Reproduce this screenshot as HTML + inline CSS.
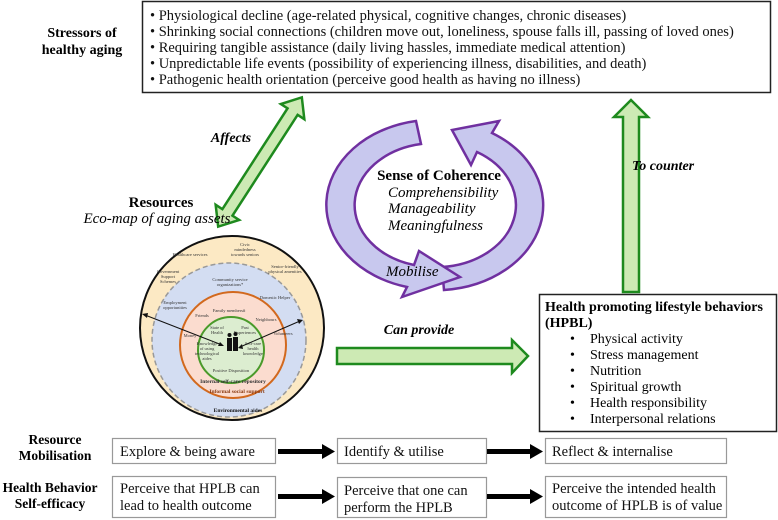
<!DOCTYPE html>
<html><head><meta charset="utf-8"><style>
html,body{margin:0;padding:0;background:#fff;}
svg{display:block;font-family:"Liberation Serif",serif;}
</style></head><body>
<svg width="778" height="520" viewBox="0 0 778 520" xmlns="http://www.w3.org/2000/svg">
<!-- top box -->
<rect x="142.5" y="1.5" width="628" height="91" fill="#fff" stroke="#222" stroke-width="1.5"/>
<g font-size="14.5" fill="#111">
<text x="150" y="20">• Physiological decline (age-related physical, cognitive changes, chronic diseases)</text>
<text x="150" y="36">• Shrinking social connections (children move out, loneliness, spouse falls ill, passing of loved ones)</text>
<text x="150" y="52">• Requiring tangible assistance (daily living hassles, immediate medical attention)</text>
<text x="150" y="68">• Unpredictable life events (possibility of experiencing illness, disabilities, and death)</text>
<text x="150" y="84">• Pathogenic health orientation (perceive good health as having no illness)</text>
</g>
<g font-size="14" font-weight="bold" text-anchor="middle">
<text x="82" y="37">Stressors of</text>
<text x="82" y="54">healthy aging</text>
</g>

<!-- Affects double arrow -->
<g transform="translate(260,162) rotate(-57.1)">
<polygon points="-77,0 -60,-14 -60,-6 60,-6 60,-14 77,0 60,14 60,6 -60,6 -60,14" fill="#cdeab4" stroke="#1e8a1e" stroke-width="2.5" stroke-linejoin="miter"/>
</g>
<text x="231" y="142" font-size="14" font-weight="bold" font-style="italic" text-anchor="middle">Affects</text>

<!-- Resources label -->
<text x="161" y="207" font-size="15" font-weight="bold" text-anchor="middle">Resources</text>
<text x="157" y="223" font-size="15" font-style="italic" text-anchor="middle">Eco-map of aging assets</text>

<!-- circular arrows -->
<path d="M444,290 A108,85 0 0 0 492,133 L499,121 L452,130 L471,165 L477,152 A80,62 0 0 1 442,267 Z" fill="#c8c8ee" stroke="#7030a0" stroke-width="2.5" stroke-linejoin="miter"/>
<path d="M416,121 A108,85 0 0 0 407,287 L402,297 L460,277 L419,251 L414,265 A80,62 0 0 1 421,144 Z" fill="#c8c8ee" stroke="#7030a0" stroke-width="2.5" stroke-linejoin="miter"/>
<text x="439" y="180" font-size="15" font-weight="bold" text-anchor="middle">Sense of Coherence</text>
<g font-size="15" font-style="italic">
<text x="388" y="197">Comprehensibility</text>
<text x="388" y="213">Manageability</text>
<text x="388" y="230">Meaningfulness</text>
<text x="386" y="276">Mobilise</text>
</g>

<!-- To counter arrow -->
<polygon points="623,292 623,117 614,117 631,100 648,117 639,117 639,292" fill="#cdeab4" stroke="#1e8a1e" stroke-width="2.5"/>
<text x="632" y="170" font-size="14" font-weight="bold" font-style="italic">To counter</text>

<!-- Can provide arrow -->
<polygon points="337,348 512,348 512,340 528,356 512,373 512,364 337,364" fill="#cdeab4" stroke="#1e8a1e" stroke-width="2.5"/>
<text x="419" y="334" font-size="14" font-weight="bold" font-style="italic" text-anchor="middle">Can provide</text>

<!-- HPBL box -->
<rect x="539.5" y="294.5" width="237" height="137" fill="#fff" stroke="#222" stroke-width="1.5"/>
<g font-size="14">
<text x="545" y="311" font-weight="bold">Health promoting lifestyle behaviors</text>
<text x="545" y="327" font-weight="bold">(HPBL)</text>
<text x="570" y="343">•</text><text x="590" y="343">Physical activity</text>
<text x="570" y="359">•</text><text x="590" y="359">Stress management</text>
<text x="570" y="375">•</text><text x="590" y="375">Nutrition</text>
<text x="570" y="391">•</text><text x="590" y="391">Spiritual growth</text>
<text x="570" y="407">•</text><text x="590" y="407">Health responsibility</text>
<text x="570" y="423">•</text><text x="590" y="423">Interpersonal relations</text>
</g>

<!-- eco-map -->
<circle cx="232" cy="328" r="92" fill="#fce9c4" stroke="#111" stroke-width="2"/>
<circle cx="229" cy="340" r="77" fill="#d3ddf2" stroke="#999" stroke-width="1.5" stroke-dasharray="5,3"/>
<circle cx="233" cy="345" r="53" fill="#fbdccf" stroke="#d2691e" stroke-width="2"/>
<circle cx="231" cy="350" r="33" fill="#dcedd0" stroke="#4a9a2a" stroke-width="2"/>
<g font-size="4.5" fill="#333" text-anchor="middle">
<text x="190" y="256">Healthcare services</text>
<text x="245" y="246">Civic</text><text x="245" y="251">mindedness</text><text x="245" y="256">towards seniors</text>
<text x="285" y="268">Senior-friendly</text><text x="285" y="273">physical amenities</text>
<text x="168" y="273">Government</text><text x="168" y="278">Support</text><text x="168" y="283">Schemes</text>
<text x="230" y="281">Community service</text><text x="230" y="286">organizations*</text>
<text x="275" y="299">Domestic Helper</text>
<text x="175" y="304">Employment</text><text x="175" y="309">opportunities</text>
<text x="229" y="312">Family members#</text>
<text x="202" y="317">Friends</text>
<text x="266" y="321">Neighbours</text>
<text x="190" y="337">Money</text>
<text x="283" y="335">Volunteers</text>
<text x="217" y="329">State of</text><text x="217" y="334">Health</text>
<text x="245" y="329">Past</text><text x="245" y="334">Experiences</text>
<text x="207" y="345">Knowledge</text><text x="207" y="350">of using</text><text x="207" y="355">technological</text><text x="207" y="360">aides</text>
<text x="253" y="345">Self-care</text><text x="253" y="350">health</text><text x="253" y="355">knowledge</text>
<text x="231" y="372">Positive Disposition</text>
</g>
<g font-size="5.5" font-weight="bold" fill="#333" text-anchor="middle">
<text x="233" y="383">Internal self-care repository</text>
<text x="237" y="393" fill="#8a3a10">Informal social support</text>
<text x="238" y="412" fill="#111">Environmental aides</text>
</g>
<g fill="#111">
<rect x="227" y="338" width="5" height="13"/><rect x="233" y="337" width="5" height="14"/>
<circle cx="229.5" cy="335" r="2"/><circle cx="235.5" cy="334" r="2"/>
</g>
<g stroke="#111" stroke-width="1">
<line x1="145" y1="315" x2="222" y2="345"/><line x1="240" y1="347" x2="300" y2="321"/>
</g>
<polygon points="142,314 148,313 147,318" fill="#111"/>
<polygon points="224,346 218,346 220,342" fill="#111"/>
<polygon points="303,320 297,319 299,324" fill="#111"/>
<polygon points="238,348 242,344 243,349" fill="#111"/>

<!-- bottom rows -->
<g font-size="13.5" font-weight="bold" text-anchor="middle">
<text x="55" y="444">Resource</text><text x="55" y="460">Mobilisation</text>
<text x="50" y="492">Health Behavior</text><text x="50" y="508">Self-efficacy</text>
</g>
<g fill="#fff" stroke="#999" stroke-width="1.2">
<rect x="112.5" y="438.5" width="163" height="25"/>
<rect x="337.5" y="438.5" width="149" height="25"/>
<rect x="545.5" y="438.5" width="181" height="25"/>
<rect x="112.5" y="476.5" width="163" height="41"/>
<rect x="337.5" y="477.5" width="149" height="40"/>
<rect x="545.5" y="476.5" width="181" height="41"/>
</g>
<g font-size="14.5" fill="#111">
<text x="120" y="456">Explore &amp; being aware</text>
<text x="344" y="456">Identify &amp; utilise</text>
<text x="552" y="456">Reflect &amp; internalise</text>
<text x="120" y="493">Perceive that HPLB can</text>
<text x="120" y="510">lead to health outcome</text>
<text x="344" y="495">Perceive that one can</text>
<text x="344" y="512">perform the HPLB</text>
<text x="552" y="493">Perceive the intended health</text>
<text x="552" y="510">outcome of HPLB is of value</text>
</g>
<g fill="#000">
<rect x="278" y="449" width="46" height="5"/><polygon points="322,444 335,451.5 322,459"/>
<rect x="487" y="449" width="45" height="5"/><polygon points="530,444 543,451.5 530,459"/>
<rect x="278" y="494" width="46" height="5"/><polygon points="322,489 335,496.5 322,504"/>
<rect x="487" y="494" width="45" height="5"/><polygon points="530,489 543,496.5 530,504"/>
</g>
</svg>
</body></html>
